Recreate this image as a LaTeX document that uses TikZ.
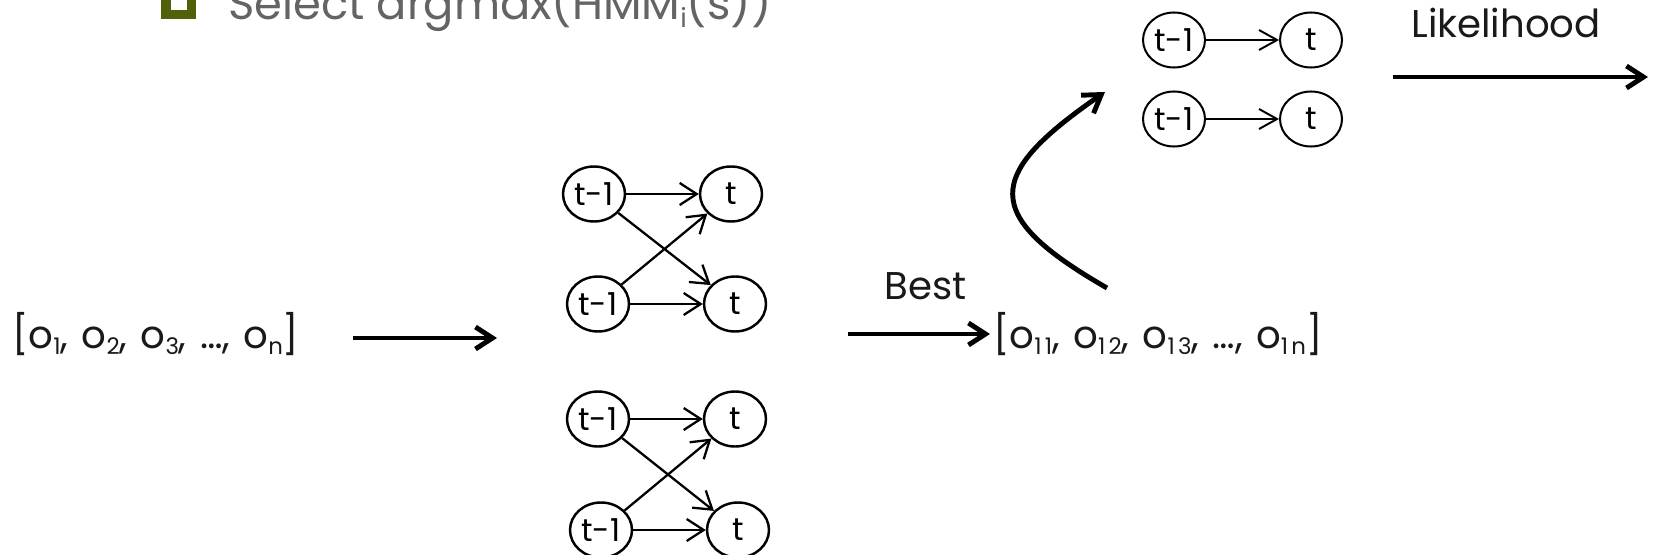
\documentclass[tikz,border=0pt]{standalone}
\usepackage{fontspec}
\setmainfont{Poppins}
\newfontfamily\widefont[WordSpace=1.3]{Poppins}
\usetikzlibrary{arrows.meta,shapes.geometric}
\definecolor{bulletgreen}{RGB}{79,98,10}
\definecolor{topgray}{RGB}{100,100,100}
\newcommand\osub[2][13]{\raisebox{-0.3ex}{\fontsize{#1}{#1}\selectfont #2}}
\newcommand\osubw[1]{\raisebox{-0.3ex}{\fontsize{13}{13}\selectfont\addfontfeature{LetterSpace=14}#1}}
\begin{document}
\begin{tikzpicture}[x=0.2mm,y=-0.2mm,
  bignode/.style={draw, ellipse, line width=1.4pt, minimum width=12.4mm, minimum height=11mm, inner sep=0pt, font=\fontsize{18}{18}\selectfont},
  smallnode/.style={draw, ellipse, line width=1.15pt, minimum width=12.4mm, minimum height=11mm, inner sep=0pt, font=\fontsize{18}{18}\selectfont},
  garrow/.style={line width=1.3pt, -{Straight Barb[length=3.4mm,width=4.4mm]}},
  sarrow/.style={line width=1.1pt, -{Straight Barb[length=3.6mm,width=4mm]}},
  bigarrow/.style={line width=2.8pt, -{Straight Barb[length=3.4mm,width=4.4mm]}},
  lbl/.style={inner sep=0pt, anchor=base west, font=\widefont\fontsize{22}{22}\selectfont, text=black!90}
]
\useasboundingbox (0,0) rectangle (1656,555);
\begin{scope}
\clip (0,0) rectangle (1656,555);
% top bullet line
\fill[bulletgreen] (161,-16) rectangle (196,19);
\fill[white] (171,-7) rectangle (187,10);
\node[inner sep=0pt, anchor=base west, text=topgray, font=\fontsize{25.5}{25.5}\selectfont] (sel) at (228,20) {Select argmax(HMM\osub[15]{i}(s))};

% group 1
\node[bignode] (A1) at (594,194) {t-1};
\node[bignode] (B1) at (731,194) {t};
\node[bignode] (A2) at (598,304) {t-1};
\node[bignode] (B2) at (735,304) {t};
\draw[garrow] (A1) -- (B1);
\draw[garrow] (A1) -- (B2);
\draw[garrow] (A2) -- (B1);
\draw[garrow] (A2) -- (B2);

% group 2
\node[bignode] (C1) at (598,419) {t-1};
\node[bignode] (D1) at (735,419) {t};
\node[bignode] (C2) at (601,530) {t-1};
\node[bignode] (D2) at (738,530) {t};
\draw[garrow] (C1) -- (D1);
\draw[garrow] (C1) -- (D2);
\draw[garrow] (C2) -- (D1);
\draw[garrow] (C2) -- (D2);

% group 3
\node[smallnode] (E1) at (1174,40) {t-1};
\node[smallnode] (F1) at (1311,40) {t};
\node[smallnode] (E2) at (1174,119) {t-1};
\node[smallnode] (F2) at (1311,119) {t};
\draw[sarrow] (E1) -- (F1);
\draw[sarrow] (E2) -- (F2);

% labels
\node[lbl] (obs) at (12,348) {[o\osub{1}, o\osub{2}, o\osub{3}, …, o\osub{n}]};
\node[lbl] (best) at (884,299) {Best};
\node[lbl] (obsb) at (993,348) {[o\osubw{11}, o\osubw{12}, o\osubw{13}, …, o\osubw{1n}]};
\node[lbl] (lik) at (1411,38) {Likelihood};

% thick arrows
\coordinate (a1s) at (353,338);
\coordinate (a1e) at (497,338);
\coordinate (a2s) at (848,334);
\coordinate (a2e) at (990,334);
\coordinate (a3s) at (1393,77);
\coordinate (a3e) at (1648,77);
\coordinate (cb) at (1107,288);
\coordinate (ct) at (1105,92);
\draw[bigarrow] (a1s) -- (a1e);
\draw[bigarrow] (a2s) -- (a2e);
\draw[bigarrow] (a3s) -- (a3e);
\draw[bigarrow] (cb) .. controls (980,215) and (985,175) .. (ct);
\end{scope}
\end{tikzpicture}
\end{document}
